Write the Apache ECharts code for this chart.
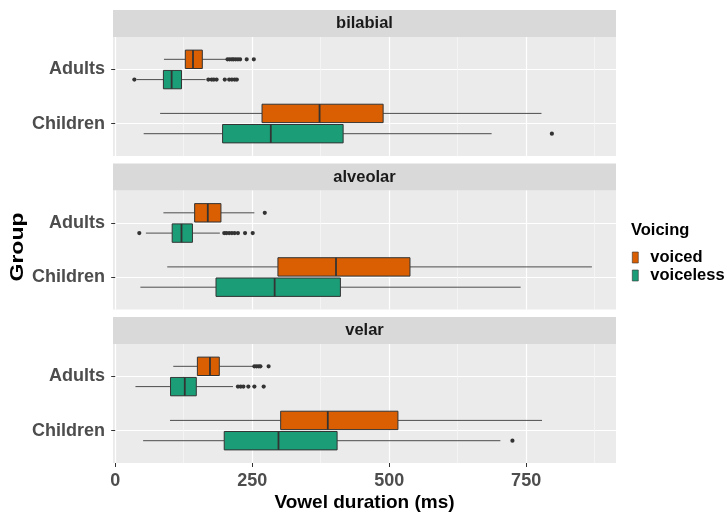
<!DOCTYPE html>
<html>
<head>
<meta charset="utf-8">
<script src="https://cdn.jsdelivr.net/npm/echarts@6/dist/echarts.min.js"></script>
<style>
  html, body { margin: 0; padding: 0; background: #fff; }
  #chart { width: 727px; height: 513px; }
</style>
</head>
<body>
<div id="chart"></div>
<script>
const places = ['bilabial', 'alveolar', 'velar'];
const groups = ['Adults', 'Children'];
const voicings = ['voiced', 'voiceless'];
const xTicks = [0, 250, 500, 750];
const xMinorTicks = [125, 375, 625, 875];

// [lower whisker, Q1, median, Q3, upper whisker] -> Adults, Children
const bilabialVoiced = [[89, 128, 142, 159, 203], [82, 268, 373, 489, 778]];
const bilabialVoiceless = [[39, 88, 103, 121, 165], [52, 196, 284, 416, 687]];
const alveolarVoiced = [[88, 145, 169, 193, 254], [95, 297, 403, 538, 870]];
const alveolarVoiceless = [[56, 104, 121, 141, 191], [46, 184, 291, 411, 740]];
const velarVoiced = [[106, 150, 173, 190, 253], [100, 302, 388, 516, 779]];
const velarVoiceless = [[37, 101, 127, 148, 215], [51, 199, 298, 405, 703]];

// outliers -> Adults, Children
const bilabialVoicedOut = [[205, 209, 213, 216, 220, 224, 228, 240, 253], []];
const bilabialVoicelessOut = [[35, 170, 176, 180, 185, 200, 208, 213, 218, 222], [797]];
const alveolarVoicedOut = [[273], []];
const alveolarVoicelessOut = [[44, 199, 203, 208, 213, 218, 224, 237, 251], []];
const velarVoicedOut = [[254, 258, 262, 265, 280], []];
const velarVoicelessOut = [[224, 229, 234, 243, 254, 271], [725]];

const colors = { voiced: '#D95F02', voiceless: '#1B9E77' };
const boxStats = [[bilabialVoiced, bilabialVoiceless], [alveolarVoiced, alveolarVoiceless], [velarVoiced, velarVoiceless]];
const outStats = [[bilabialVoicedOut, bilabialVoicelessOut], [alveolarVoicedOut, alveolarVoicelessOut], [velarVoicedOut, velarVoicelessOut]];

const FONT = '"Liberation Sans", Arial, sans-serif';
const panelLeft = 113;
const panelWidth = 503;
const panelTops = [37, 190.5, 344];
const panelH = 119;
const stripH = 27;
const DODGE = 0.1875;
const BOX_HALF = 0.17;

const chart = echarts.init(document.getElementById('chart'));

function boxRenderer(offset, color) {
  return (params, api) => {
    const y = api.value(0) + offset;
    const lo = api.coord([api.value(1), y]);
    const q1 = api.coord([api.value(2), y - BOX_HALF]);
    const med = api.coord([api.value(3), y]);
    const q3 = api.coord([api.value(4), y + BOX_HALF]);
    const hi = api.coord([api.value(5), y]);
    const top = Math.min(q1[1], q3[1]);
    const h = Math.abs(q3[1] - q1[1]);
    const whisker = { stroke: '#4d4d4d', lineWidth: 1 };
    return {
      type: 'group',
      children: [
        { type: 'line', shape: { x1: lo[0], y1: lo[1], x2: q1[0], y2: lo[1] }, style: whisker },
        { type: 'line', shape: { x1: q3[0], y1: hi[1], x2: hi[0], y2: hi[1] }, style: whisker },
        { type: 'rect', shape: { x: q1[0], y: top, width: q3[0] - q1[0], height: h },
          style: { fill: color, stroke: '#333', lineWidth: 1 } },
        { type: 'line', shape: { x1: med[0], y1: top, x2: med[0], y2: top + h },
          style: { stroke: '#333', lineWidth: 1.8 } },
      ],
    };
  };
}

function outlierRenderer(offset) {
  return (params, api) => {
    const p = api.coord([api.value(0), api.value(1) + offset]);
    return { type: 'circle', shape: { cx: p[0], cy: p[1], r: 2.1 }, style: { fill: '#333' } };
  };
}

const grids = [];
const xAxes = [];
const yAxes = [];
const series = [];
const graphics = [];

places.forEach((place, f) => {
  const isBottom = f === places.length - 1;
  grids.push({ left: panelLeft, width: panelWidth, top: panelTops[f], height: panelH, show: true, backgroundColor: '#EBEBEB', borderWidth: 0 });

  // major x axis
  xAxes.push({
    type: 'value', gridIndex: f, min: -4, max: 914,
    axisLine: { show: false },
    axisTick: { show: isBottom, customValues: xTicks, length: 4, lineStyle: { color: '#333', width: 1 } },
    axisLabel: { show: isBottom, customValues: xTicks, margin: 9, color: '#4D4D4D', fontFamily: FONT, fontWeight: 'bold', fontSize: 18 },
    splitLine: { show: true, lineStyle: { color: '#FFFFFF', width: 1.2 } },
    name: isBottom ? 'Vowel duration (ms)' : '',
    nameLocation: 'middle', nameGap: 30,
    nameTextStyle: { color: '#000', fontFamily: FONT, fontWeight: 'bold', fontSize: 19 },
  });
  // minor grid lines
  xAxes.push({
    type: 'value', gridIndex: f, min: -4, max: 914,
    axisLine: { show: false },
    axisTick: { show: false, customValues: xMinorTicks },
    axisLabel: { show: false },
    splitLine: { show: true, lineStyle: { color: '#F6F6F6', width: 0.8 } },
  });

  yAxes.push({
    type: 'value', gridIndex: f, min: 0.4, max: 2.6, inverse: true,
    axisLine: { show: false },
    axisTick: { show: true, customValues: [1, 2], length: 4, lineStyle: { color: '#333', width: 1 } },
    axisLabel: { customValues: [1, 2], margin: 8, padding: [3, 0, 0, 0], formatter: v => groups[Math.round(v) - 1],
      color: '#4D4D4D', fontFamily: FONT, fontWeight: 'bold', fontSize: 18 },
    splitLine: { show: true, lineStyle: { color: '#FFFFFF', width: 1.2 } },
  });

  voicings.forEach((v, k) => {
    const offset = k === 0 ? -DODGE : DODGE;
    const color = colors[v];
    series.push({
      type: 'custom', name: v, xAxisIndex: f * 2, yAxisIndex: f,
      itemStyle: { color },
      encode: { x: [1, 2, 3, 4, 5], y: 0 },
      renderItem: boxRenderer(offset, color),
      data: boxStats[f][k].map((s, g) => [g + 1, ...s]),
      z: 3,
    });
    const pts = [];
    outStats[f][k].forEach((vals, g) => vals.forEach(val => pts.push([val, g + 1])));
    series.push({
      type: 'custom', name: v, xAxisIndex: f * 2, yAxisIndex: f,
      itemStyle: { color },
      encode: { x: 0, y: 1 },
      renderItem: outlierRenderer(offset),
      data: pts,
      z: 4,
    });
  });

  // facet strip
  graphics.push({
    type: 'rect', left: panelLeft, top: panelTops[f] - stripH,
    shape: { width: panelWidth, height: stripH }, style: { fill: '#D9D9D9' }, silent: true,
  });
  graphics.push({
    type: 'text', x: panelLeft + panelWidth / 2, y: panelTops[f] - stripH / 2,
    style: { text: place, fill: '#1A1A1A', font: 'bold 16.5px ' + FONT, align: 'center', verticalAlign: 'middle' },
    silent: true,
  });
});

graphics.push({
  type: 'text', x: 18, y: 247, rotation: Math.PI / 2, scaleY: 0.8,
  style: { text: 'Group', fill: '#000', font: 'bold 23px ' + FONT, align: 'center', verticalAlign: 'middle' },
});
graphics.push({
  type: 'text', x: 631, y: 230,
  style: { text: 'Voicing', fill: '#000', font: 'bold 16.5px ' + FONT, align: 'left', verticalAlign: 'middle' },
});

chart.setOption({
  animation: false,
  backgroundColor: '#fff',
  grid: grids,
  xAxis: xAxes,
  yAxis: yAxes,
  series,
  graphic: graphics,
  legend: {
    orient: 'vertical', left: 632, top: 249, padding: 0,
    itemWidth: 6, itemHeight: 11, itemGap: 1, icon: 'rect', selectedMode: false,
    data: voicings.map(v => ({ name: v, itemStyle: { color: colors[v], borderColor: '#333', borderWidth: 0.6 } })),
    textStyle: { color: '#000', fontFamily: FONT, fontWeight: 'bold', fontSize: 16.5, lineHeight: 14, padding: [0, 0, 0, 7] },
  },
});
</script>
</body>
</html>
